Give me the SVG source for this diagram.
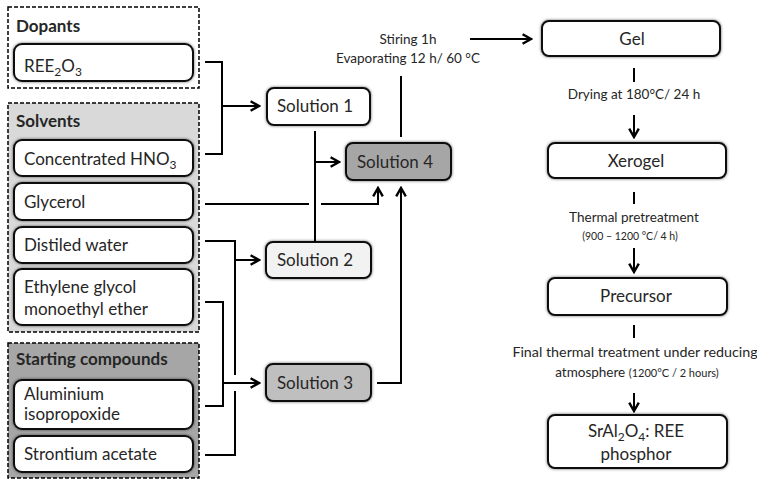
<svg xmlns="http://www.w3.org/2000/svg" width="757" height="481" viewBox="0 0 757 481">
<defs>
<filter id="sh" x="-20%" y="-30%" width="140%" height="160%">
<feDropShadow dx="0" dy="0" stdDeviation="1.6" flood-color="#000" flood-opacity="0.6"/>
</filter>
<marker id="ah" markerUnits="userSpaceOnUse" markerWidth="12" markerHeight="12" viewBox="0 0 10 10" refX="8" refY="5" orient="auto">
<path d="M1,1 L8,5 L1,9" fill="none" stroke="#000" stroke-width="2"/>
</marker>
<style>
.grp{stroke:#000;stroke-width:1.5;stroke-dasharray:4 2}
.box{stroke:#111;stroke-width:2;filter:url(#sh)}
.t{font-family:Lato,"Open Sans",sans-serif;font-size:17px;fill:#262626}
.b{font-weight:bold}
.s{font-family:Lato,"Open Sans",sans-serif;font-size:13.5px;fill:#262626;text-anchor:middle}
.m{text-anchor:middle}
.c{fill:none;stroke:#000;stroke-width:2}
.a{marker-end:url(#ah)}
</style>
</defs>
<g id="dopants">
<rect class="grp" x="8" y="7" width="191" height="81" fill="#fff"/>
<text class="t b" x="16" y="32">Dopants</text>
</g>
<g id="solvents">
<rect class="grp" x="8" y="103" width="191" height="229" fill="#d9d9d9"/>
<text class="t b" x="16" y="127">Solvents</text>
</g>
<g id="starting-compounds">
<rect class="grp" x="8" y="343" width="191" height="135" fill="#a6a6a6"/>
<text class="t b" x="16" y="365">Starting compounds</text>
</g>
<g id="ree2o3">
<rect class="box" x="14" y="44" width="179" height="37" rx="8" fill="#fff"/>
<text class="t" x="24" y="72">REE<tspan font-size="12" dy="4">2</tspan><tspan dy="-4">O</tspan><tspan font-size="12" dy="4">3</tspan></text>
</g>
<g id="hno3">
<rect class="box" x="14" y="140" width="179" height="36" rx="8" fill="#fff"/>
<text class="t" x="24" y="165">Concentrated HNO<tspan font-size="12" dy="4">3</tspan></text>
</g>
<g id="glycerol">
<rect class="box" x="14" y="183" width="179" height="37" rx="8" fill="#fff"/>
<text class="t" x="24" y="208">Glycerol</text>
</g>
<g id="water">
<rect class="box" x="14" y="227" width="179" height="36" rx="8" fill="#fff"/>
<text class="t" x="24" y="251">Distiled water</text>
</g>
<g id="ethylene">
<rect class="box" x="14" y="269" width="179" height="56" rx="8" fill="#fff"/>
<text class="t" x="24" y="293">Ethylene glycol</text>
<text class="t" x="24" y="315">monoethyl ether</text>
</g>
<g id="aluminium">
<rect class="box" x="14" y="380" width="179" height="49" rx="8" fill="#fff"/>
<text class="t" x="24" y="400">Aluminium</text>
<text class="t" x="24" y="420">isopropoxide</text>
</g>
<g id="strontium">
<rect class="box" x="14" y="436" width="179" height="36" rx="8" fill="#fff"/>
<text class="t" x="24" y="460">Strontium acetate</text>
</g>
<g id="solution1">
<rect class="box" x="267" y="88" width="103" height="37" rx="7" fill="#fff"/>
<text class="t m" x="315" y="112">Solution 1</text>
</g>
<g id="solution2">
<rect class="box" x="266" y="242" width="105" height="36" rx="7" fill="#f2f2f2"/>
<text class="t m" x="315" y="266">Solution 2</text>
</g>
<g id="solution3">
<rect class="box" x="266" y="364" width="105" height="37" rx="7" fill="#bfbfbf"/>
<text class="t m" x="315" y="389">Solution 3</text>
</g>
<g id="solution4">
<rect class="box" x="346" y="143" width="105" height="37" rx="7" fill="#a6a6a6"/>
<text class="t m" x="395" y="168">Solution 4</text>
</g>
<g id="gel">
<rect class="box" x="542" y="21" width="178" height="35" rx="7" fill="#fff"/>
<text class="t m" x="632" y="45">Gel</text>
</g>
<g id="xerogel">
<rect class="box" x="548" y="143" width="178" height="35" rx="7" fill="#fff"/>
<text class="t m" x="636" y="167">Xerogel</text>
</g>
<g id="precursor">
<rect class="box" x="548" y="278" width="179" height="37" rx="7" fill="#fff"/>
<text class="t m" x="636" y="302">Precursor</text>
</g>
<g id="phosphor">
<rect class="box" x="548" y="415" width="179" height="53" rx="7" fill="#fff"/>
<text class="t m" x="636" y="437">SrAl<tspan font-size="12" dy="4">2</tspan><tspan dy="-4">O</tspan><tspan font-size="12" dy="4">4</tspan><tspan dy="-4">: REE</tspan></text>
<text class="t m" x="636" y="460">phosphor</text>
</g>
<g id="connectors">
<path class="c" d="M205,62 H222 V154 H205"/>
<path class="c a" d="M222,106 H259"/>
<path class="c" d="M315,131 V242"/>
<path class="c a" d="M315,162 H339"/>
<path class="c" d="M205,204 H309"/>
<path class="c a" d="M321,204 H378 V188"/>
<path class="c" d="M205,241 H235 V375"/>
<path class="c" d="M235,391 V455 H205"/>
<path class="c a" d="M235,260 H259"/>
<path class="c" d="M205,302 H223 V406 H205"/>
<path class="c a" d="M223,383 H259"/>
<path class="c a" d="M377,383 H401 V188"/>
<path class="c" d="M401,137 V76"/>
<path class="c a" d="M470,39 H531"/>
<path class="c" d="M634,68 V82"/>
<path class="c a" d="M634,115 V137"/>
<path class="c" d="M634,192 V204"/>
<path class="c a" d="M634,248 V272"/>
<path class="c" d="M634,325 V338"/>
<path class="c a" d="M634,393 V411"/>
</g>
<g id="labels">
<text class="s" x="408" y="44">Stiring 1h</text>
<text class="s" x="408" y="63">Evaporating 12 h/ 60 °C</text>
<text class="s" x="634" y="99">Drying at 180°C/ 24 h</text>
<text class="s" x="634" y="222">Thermal pretreatment</text>
<text class="s" x="630" y="240" style="font-size:10.5px">(900 – 1200 °C/ 4 h)</text>
<text class="s" x="635" y="357" style="font-size:14.3px">Final thermal treatment under reducing</text>
<text class="s" x="637" y="377">atmosphere  <tspan style="font-size:11px">(1200°C / 2 hours)</tspan></text>
</g>
</svg>
